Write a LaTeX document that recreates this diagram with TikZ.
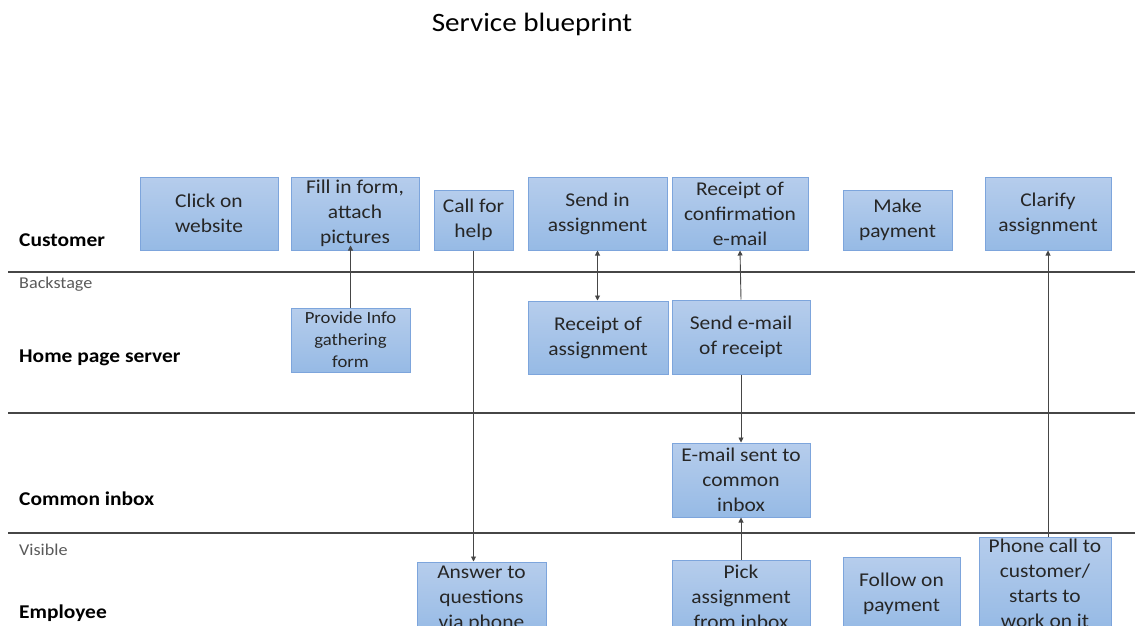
\documentclass[tikz,border=0pt]{standalone}
\usepackage{fontspec}
\setmainfont{Carlito}[FakeStretch=1.1]
\usetikzlibrary{arrows.meta}
\definecolor{boxtop}{RGB}{182,205,236}
\definecolor{boxbot}{RGB}{150,186,229}
\definecolor{boxline}{RGB}{125,165,220}
\definecolor{ink}{RGB}{38,38,38}
\definecolor{rulegray}{RGB}{70,70,70}
\definecolor{zonegray}{RGB}{90,90,90}
\begin{document}
\begin{tikzpicture}[x=1pt,y=-1pt,
  stepbox/.style={draw=boxline, line width=1pt, top color=boxtop, bottom color=boxbot,
    align=center, inner sep=0pt, text=ink, font=\fontsize{19.5}{25}\selectfont},
  smallbox/.style={stepbox, font=\fontsize{17}{22}\selectfont},
  lane/.style={font=\bfseries\fontsize{19.5}{22}\selectfont, anchor=west, text=black, inner sep=0pt},
  zone/.style={font=\fontsize{16.5}{20}\selectfont, anchor=west, text=zonegray, inner sep=0pt},
  sep/.style={draw=rulegray, line width=1.3pt},
  tip/.tip={Triangle[length=5pt,width=5pt]},
  flow/.style={draw=rulegray, line width=0.9pt, -tip},
]
\useasboundingbox (0,0) rectangle (1135,626);
\clip (0,0) rectangle (1135,626);

% title
\node[font=\fontsize{26.5}{32}\selectfont, text=black] (title) at (532,24) {Service blueprint};

% lane separators
\draw[sep] (8,272) -- (1135,272);
\draw[sep] (8,413) -- (1135,413);
\draw[sep] (8,533) -- (1135,533);

% lane and zone labels
\node[lane] (lcust) at (19,240) {Customer};
\node[zone] (zback) at (19,284) {Backstage};
\node[lane] (lhome) at (19,358) {Home page server};
\node[lane] (linbox) at (19,499) {Common inbox};
\node[zone] (zvis) at (19,550) {Visible};
\node[lane] (lemp) at (19,613) {Employee};

% customer actions
\node[stepbox, minimum width=138pt, minimum height=73pt] (click) at (209,213.5) {Click on\\website};
\node[stepbox, minimum width=128pt, minimum height=73pt] (fill) at (355,213.5) {Fill in form,\\attach\\pictures};
\node[stepbox, minimum width=79pt, minimum height=60pt] (call) at (473.5,220) {Call for\\help};
\node[stepbox, minimum width=139pt, minimum height=73pt] (send) at (597.5,213.5) {Send in\\assignment};
\node[stepbox, minimum width=136pt, minimum height=73pt] (rconf) at (740,213.5) {Receipt of\\confirmation\\e-mail};
\node[stepbox, minimum width=109pt, minimum height=60pt] (pay) at (897.5,220) {Make\\payment};
\node[stepbox, minimum width=126pt, minimum height=73pt] (clar) at (1048,213.5) {Clarify\\assignment};

% home page server
\node[smallbox, minimum width=119pt, minimum height=64pt] (prov) at (350.5,340) {Provide Info\\gathering\\form};
\node[stepbox, minimum width=140pt, minimum height=73pt] (rassign) at (598,337.5) {Receipt of\\assignment};
\node[stepbox, minimum width=138pt, minimum height=74pt] (semail) at (741,337) {Send e-mail\\of receipt};

% common inbox
\node[stepbox, minimum width=138pt, minimum height=74pt] (inbox) at (741,480) {E-mail sent to\\common\\inbox};

% employee
\node[stepbox, minimum width=129pt, minimum height=73pt] (answer) at (481.5,598.5) {Answer to\\questions\\via phone};
\node[stepbox, minimum width=138pt, minimum height=73pt] (pick) at (741,596.5) {Pick\\assignment\\from inbox};
\node[stepbox, minimum width=117pt, minimum height=73pt] (follow) at (901.5,594) {Follow on\\payment};
\node[stepbox, minimum width=132pt, minimum height=92pt] (phone) at (1045,583) {Phone call to\\customer/\\starts to\\work on it};

% flows
\draw[flow] (prov.north) -- ([yshift=5pt]prov.north |- fill.south);
\draw[flow] (call.south) -- (call.south |- answer.north);
\draw[flow, tip-tip] (send.south) -- (send.south |- rassign.north);
\draw[flow] (semail.north) -- (rconf.south);
\draw[flow] (semail.south) -- (inbox.north);
\draw[flow] (pick.north) -- (inbox.south);
\draw[flow] (clar.south |- phone.north) -- (clar.south);
\end{tikzpicture}
\end{document}
